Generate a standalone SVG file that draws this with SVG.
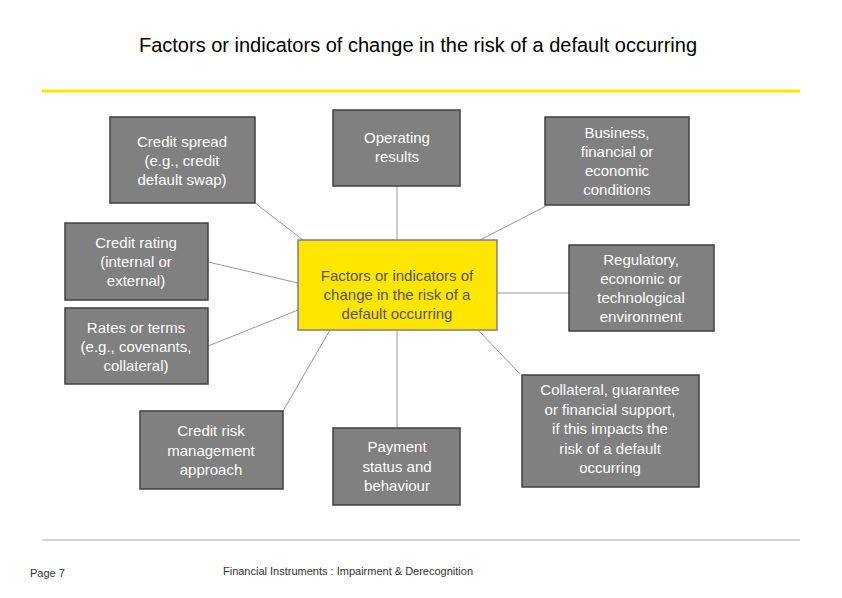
<svg xmlns="http://www.w3.org/2000/svg" width="842" height="598" viewBox="0 0 842 598">
<style>
.b{fill:#808080;stroke:#404040;stroke-width:1.5}
.t{font-family:"Liberation Sans",Arial,sans-serif;font-size:15px;fill:#fff;text-anchor:middle}
.c{fill:#FFE600;stroke:#808080;stroke-width:1.5}
.ct{font-family:"Liberation Sans",Arial,sans-serif;font-size:15px;fill:#555;text-anchor:middle}
#connectors line{stroke:#999;stroke-width:1}
</style>
<rect width="842" height="598" fill="#fff"/>
<text x="418" y="52" font-family="Liberation Sans,Arial,sans-serif" font-size="20" text-anchor="middle" fill="#000">Factors or indicators of change in the risk of a default occurring</text>
<line x1="42" y1="91" x2="800" y2="91" stroke="#FFE600" stroke-width="3"/>
<line x1="42" y1="540" x2="800" y2="540" stroke="#aaa" stroke-width="1"/>
<g id="connectors">
<line x1="255" y1="203" x2="303" y2="240"/>
<line x1="397" y1="186" x2="397" y2="240"/>
<line x1="548" y1="205" x2="480" y2="240"/>
<line x1="208" y1="262" x2="298" y2="283"/>
<line x1="569" y1="293" x2="497" y2="293"/>
<line x1="208" y1="346" x2="298" y2="310"/>
<line x1="520" y1="374" x2="478" y2="330"/>
<line x1="283" y1="411" x2="330" y2="330"/>
<line x1="397" y1="428" x2="397" y2="330"/>
</g>
<g id="spread"><rect class="b" x="110" y="117" width="145" height="86"/><text class="t" x="182" y="147">Credit spread<tspan x="182" dy="19">(e.g., credit</tspan><tspan x="182" dy="19">default swap)</tspan></text></g>
<g id="operating"><rect class="b" x="333" y="110" width="127" height="76"/><text class="t" x="397" y="143">Operating<tspan x="397" dy="19">results</tspan></text></g>
<g id="business"><rect class="b" x="545" y="117" width="144" height="88"/><text class="t" x="617" y="138">Business,<tspan x="617" dy="19">financial or</tspan><tspan x="617" dy="19">economic</tspan><tspan x="617" dy="19">conditions</tspan></text></g>
<g id="rating"><rect class="b" x="65" y="223" width="143" height="77"/><text class="t" x="136" y="248">Credit rating<tspan x="136" dy="19">(internal or</tspan><tspan x="136" dy="19">external)</tspan></text></g>
<g id="central"><rect class="c" x="298" y="240" width="199" height="90"/><text class="ct" x="397" y="281">Factors or indicators of<tspan x="397" dy="19">change in the risk of a</tspan><tspan x="397" dy="19">default occurring</tspan></text></g>
<g id="regulatory"><rect class="b" x="569" y="245" width="145" height="86"/><text class="t" x="641" y="265">Regulatory,<tspan x="641" dy="19">economic or</tspan><tspan x="641" dy="19">technological</tspan><tspan x="641" dy="19">environment</tspan></text></g>
<g id="rates"><rect class="b" x="65" y="308" width="143" height="76"/><text class="t" x="136" y="333">Rates or terms<tspan x="136" dy="19">(e.g., covenants,</tspan><tspan x="136" dy="19">collateral)</tspan></text></g>
<g id="collateral"><rect class="b" x="522" y="375" width="177" height="112"/><text class="t" x="610" y="395">Collateral, guarantee<tspan x="610" dy="19.5">or financial support,</tspan><tspan x="610" dy="19.5">if this impacts the</tspan><tspan x="610" dy="19.5">risk of a default</tspan><tspan x="610" dy="19.5">occurring</tspan></text></g>
<g id="crm"><rect class="b" x="140" y="411" width="143" height="78"/><text class="t" x="211" y="436">Credit risk<tspan x="211" dy="19.5">management</tspan><tspan x="211" dy="19.5">approach</tspan></text></g>
<g id="payment"><rect class="b" x="333" y="428" width="127" height="77"/><text class="t" x="397" y="452">Payment<tspan x="397" dy="19.5">status and</tspan><tspan x="397" dy="19.5">behaviour</tspan></text></g>
<text x="30" y="577" font-family="Liberation Sans,Arial,sans-serif" font-size="11" fill="#333">Page 7</text>
<text x="348" y="575" font-family="Liberation Sans,Arial,sans-serif" font-size="11" text-anchor="middle" fill="#333">Financial Instruments : Impairment &amp; Derecognition</text>
</svg>
